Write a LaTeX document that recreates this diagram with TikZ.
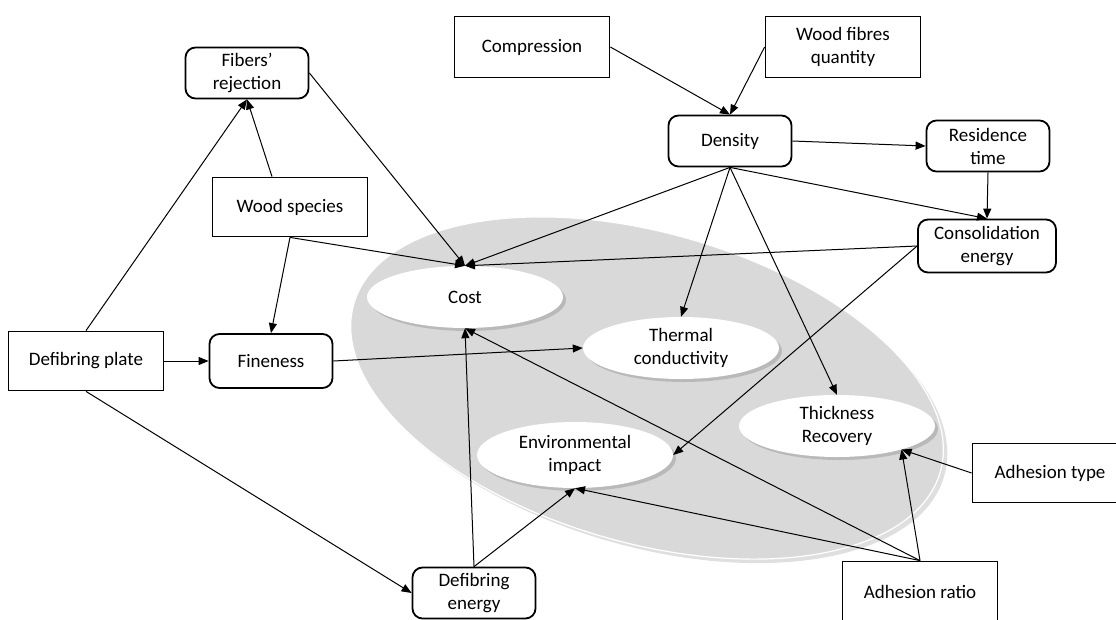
\documentclass[tikz,border=0pt]{standalone}
\usepackage{fontspec}
\setmainfont{Carlito}
\usetikzlibrary{shapes.geometric, arrows.meta, shadows}
\definecolor{lightgrey}{RGB}{217,217,217}
\tikzstyle{plain} = [rectangle, draw=black, line width=1.8pt, inner sep=3pt, minimum width=155pt, minimum height=61pt, align=center]
\tikzstyle{soft} = [rectangle, rounded corners=10pt, draw=black, line width=1.8pt, inner sep=3pt, minimum width=123pt, minimum height=51pt, align=center]
\tikzstyle{oval} = [ellipse, fill=white, inner sep=0pt, minimum width=196pt, minimum height=62pt, align=center, drop shadow={shadow xshift=3pt, shadow yshift=-3pt, opacity=.35}]
\tikzstyle{arrow} = [line width=1pt, -{Triangle[length=10pt,width=8pt]}]

\begin{document}
\begin{tikzpicture}[x=1pt, y=-1pt, font=\fontsize{19}{23}\selectfont]
\useasboundingbox (0,0) rectangle (1116,619);
\draw[white, line width=1.2pt, fill=lightgrey, drop shadow={shadow xshift=4pt, shadow yshift=-4pt, opacity=.25}, rotate around={-16:(647,388)}] (647,388) ellipse [x radius=305pt, y radius=155pt];

\node[soft] (rejection) at (247,73) {Fibers’\\rejection};
\node[plain] (compression) at (532,47) {Compression};
\node[plain] (fibres) at (843,47) {Wood fibres\\quantity};
\node[soft] (density) at (730,141) {Density};
\node[soft] (residence) at (988,146) {Residence\\time};
\node[soft, minimum width=138pt, minimum height=53pt] (consolidation) at (987,246) {Consolidation\\energy};
\node[plain, minimum height=59pt] (species) at (290,207) {Wood species};
\node[plain, minimum height=59pt] (plate) at (86,361) {Defibring plate};
\node[soft, minimum height=54pt] (fineness) at (271,361) {Fineness};
\node[soft] (energy) at (474,593) {Defibring\\energy};
\node[plain, minimum height=59pt] (adtype) at (1050,473) {Adhesion type};
\node[plain] (adratio) at (920,592) {Adhesion ratio};

\node[oval] (cost) at (465,297) {Cost};
\node[oval] (thermal) at (681,348) {Thermal\\conductivity};
\node[oval, minimum height=66pt] (impact) at (575,455) {Environmental\\impact};
\node[oval] (thickness) at (837,426) {Thickness\\Recovery};

\draw[arrow] ([xshift=-18pt]species.north) -- (rejection.south);
\foreach \from/\to in {plate.north/rejection.south, rejection.east/cost.north, species.south/cost.north,
	species.south/fineness.north, plate.east/fineness.west, plate.south/energy.west, fineness.east/thermal.west,
	compression.east/density.north, fibres.west/density.north, density.east/residence.west,
	residence.south/consolidation.north, density.south/consolidation.north, density.south/cost.north,
	density.south/thermal.north, density.south/thickness.north, consolidation.west/cost.north,
	consolidation.west/impact.east, energy.north/cost.south, energy.north/impact.south,
	adratio.north/cost.south, adratio.north/impact.south, adratio.north/thickness.-20, adtype.west/thickness.-20}
	\draw[arrow] (\from) -- (\to);
\end{tikzpicture}
\end{document}
